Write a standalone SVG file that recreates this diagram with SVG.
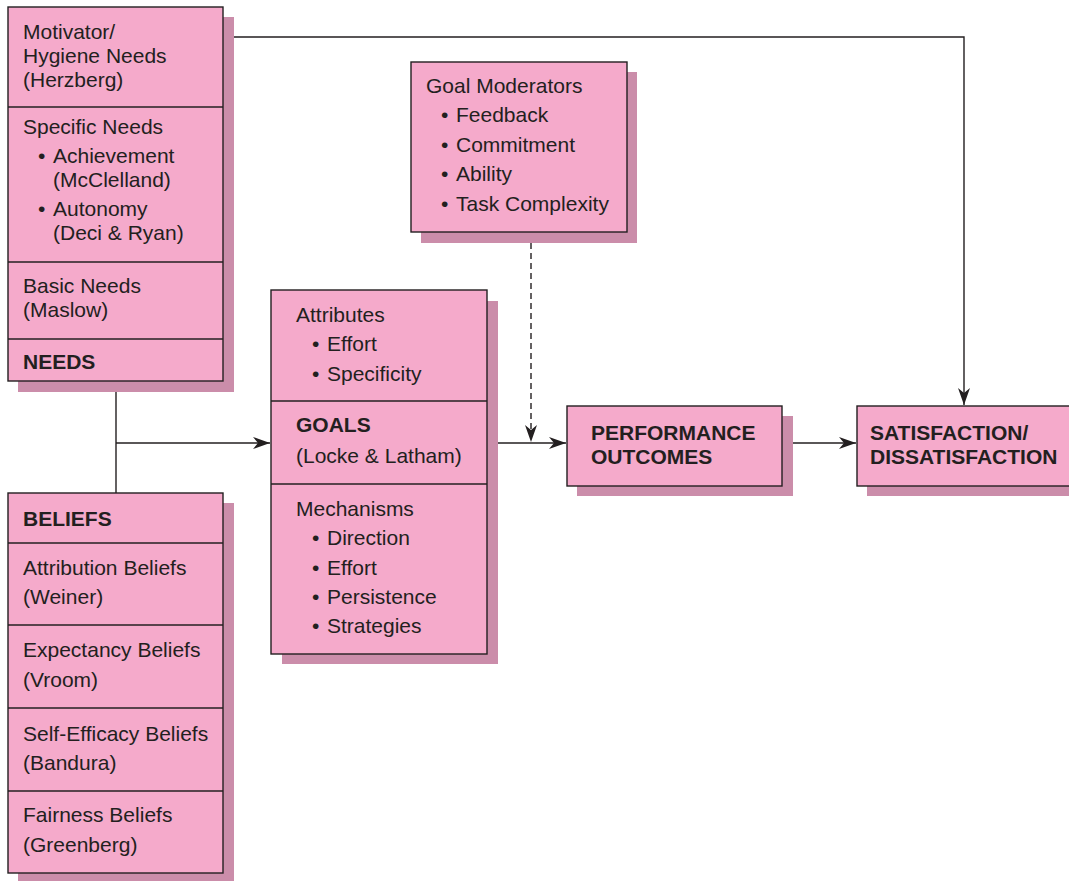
<svg xmlns="http://www.w3.org/2000/svg" width="1069" height="881" viewBox="0 0 1069 881">
  <style>
    .shadow { fill: #CB8DAA; }
    .box { fill: #F5AACB; stroke: #231F20; stroke-width: 1.4; }
    .div { stroke: #231F20; stroke-width: 1.4; }
    text { font-family: "Liberation Sans", Arial, sans-serif; font-size: 21px; fill: #231F20; }
    .b { font-weight: bold; }
    .conn { fill: none; stroke: #231F20; stroke-width: 1.4; }
    .dash { stroke-dasharray: 6 4; }
  </style>
  <defs>
    <marker id="arrow" markerUnits="userSpaceOnUse" markerWidth="18" markerHeight="12" viewBox="0 0 18 12" refX="17" refY="6" orient="auto">
      <path d="M0,0 L17,6 L0,12 L5,6 Z" fill="#231F20"/>
    </marker>
  </defs>

  <!-- connectors -->
  <g id="connectors">
    <path class="conn" d="M116,381 V494"/>
    <path class="conn" d="M116,443 H270" marker-end="url(#arrow)"/>
    <path class="conn" d="M487,443 H566" marker-end="url(#arrow)"/>
    <path class="conn dash" d="M531,243 V442" marker-end="url(#arrow)"/>
    <path class="conn" d="M782,443 H856" marker-end="url(#arrow)"/>
    <path class="conn" d="M223,37 H964 V405" marker-end="url(#arrow)"/>
  </g>

  <!-- needs -->
  <g id="needs">
    <rect class="shadow" x="18" y="17" width="216" height="375"/>
    <rect class="box" x="8" y="7" width="215" height="374"/>
    <line class="div" x1="8" y1="107" x2="223" y2="107"/>
    <line class="div" x1="8" y1="262" x2="223" y2="262"/>
    <line class="div" x1="8" y1="339" x2="223" y2="339"/>
    <text x="23" y="39">Motivator/</text>
    <text x="23" y="63">Hygiene Needs</text>
    <text x="23" y="87">(Herzberg)</text>
    <text x="23" y="134">Specific Needs</text>
    <text x="38" y="163">•<tspan x="53">Achievement</tspan></text>
    <text x="53" y="187">(McClelland)</text>
    <text x="38" y="216">•<tspan x="53">Autonomy</tspan></text>
    <text x="53" y="240">(Deci &amp; Ryan)</text>
    <text x="23" y="293">Basic Needs</text>
    <text x="23" y="317">(Maslow)</text>
    <text class="b" x="23" y="369">NEEDS</text>
  </g>

  <!-- beliefs -->
  <g id="beliefs">
    <rect class="shadow" x="18" y="503" width="216" height="380"/>
    <rect class="box" x="8" y="493" width="215" height="380"/>
    <line class="div" x1="8" y1="543" x2="223" y2="543"/>
    <line class="div" x1="8" y1="625" x2="223" y2="625"/>
    <line class="div" x1="8" y1="708" x2="223" y2="708"/>
    <line class="div" x1="8" y1="791" x2="223" y2="791"/>
    <text class="b" x="23" y="526">BELIEFS</text>
    <text x="23" y="575">Attribution Beliefs</text>
    <text x="23" y="604">(Weiner)</text>
    <text x="23" y="657">Expectancy Beliefs</text>
    <text x="23" y="687">(Vroom)</text>
    <text x="23" y="741">Self-Efficacy Beliefs</text>
    <text x="23" y="770">(Bandura)</text>
    <text x="23" y="822">Fairness Beliefs</text>
    <text x="23" y="852">(Greenberg)</text>
  </g>

  <!-- goal moderators -->
  <g id="moderators">
    <rect class="shadow" x="421" y="72" width="216" height="171"/>
    <rect class="box" x="411" y="62" width="216" height="170"/>
    <text x="426" y="93">Goal Moderators</text>
    <text x="441" y="122">•<tspan x="456">Feedback</tspan></text>
    <text x="441" y="152">•<tspan x="456">Commitment</tspan></text>
    <text x="441" y="181">•<tspan x="456">Ability</tspan></text>
    <text x="441" y="211">•<tspan x="456">Task Complexity</tspan></text>
  </g>

  <!-- goals -->
  <g id="goals">
    <rect class="shadow" x="282" y="301" width="216" height="363"/>
    <rect class="box" x="271" y="290" width="216" height="364"/>
    <line class="div" x1="271" y1="401" x2="487" y2="401"/>
    <line class="div" x1="271" y1="484" x2="487" y2="484"/>
    <text x="296" y="322">Attributes</text>
    <text x="312" y="351">•<tspan x="327">Effort</tspan></text>
    <text x="312" y="381">•<tspan x="327">Specificity</tspan></text>
    <text class="b" x="296" y="432">GOALS</text>
    <text x="296" y="463">(Locke &amp; Latham)</text>
    <text x="296" y="516">Mechanisms</text>
    <text x="312" y="545">•<tspan x="327">Direction</tspan></text>
    <text x="312" y="575">•<tspan x="327">Effort</tspan></text>
    <text x="312" y="604">•<tspan x="327">Persistence</tspan></text>
    <text x="312" y="633">•<tspan x="327">Strategies</tspan></text>
  </g>

  <!-- performance outcomes -->
  <g id="performance">
    <rect class="shadow" x="577" y="416" width="216" height="80"/>
    <rect class="box" x="567" y="406" width="215" height="80"/>
    <text class="b" x="591" y="440">PERFORMANCE</text>
    <text class="b" x="591" y="464">OUTCOMES</text>
  </g>

  <!-- satisfaction -->
  <g id="satisfaction">
    <rect class="shadow" x="867" y="416" width="210" height="80"/>
    <rect class="box" x="857" y="406" width="215" height="80"/>
    <text class="b" x="870" y="440">SATISFACTION/</text>
    <text class="b" x="870" y="464">DISSATISFACTION</text>
  </g>
</svg>
